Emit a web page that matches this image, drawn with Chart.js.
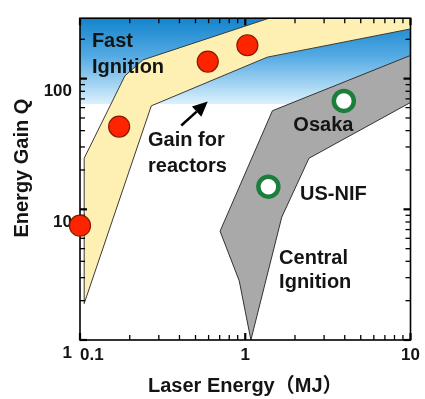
<!DOCTYPE html>
<html><head><meta charset="utf-8">
<script src="https://cdn.jsdelivr.net/npm/chart.js@4.4.1/dist/chart.umd.min.js"></script>
<style>html,body{margin:0;padding:0;background:#fff;overflow:hidden}#c{display:block}</style>
</head><body>
<canvas id="c" width="425" height="399"></canvas>
<script>
// ---- data ----
const xTickLabels = [0.1, 1, 10];
const yTickLabels = [1, 10, 100];
// Fast ignition band outline (MJ, gain)
const fastBandX = [0.106, 0.106, 0.187, 0.240, 1.36, 10, 10, 1.36, 0.270, 0.106];
const fastBandY = [1.90, 24.6, 105, 139, 287, 475, 240, 146, 61.9, 1.90];
// Central ignition band outline
const centralBandX = [1.082, 0.920, 0.704, 1.46, 10, 10, 2.43, 1.663, 1.082];
const centralBandY = [1.0, 2.83, 6.8, 56.8, 150.5, 65.7, 24.6, 8.71, 1.0];
// Fast ignition design points
const fastPointX = [0.1, 0.1725, 0.593, 1.03];
const fastPointY = [7.5, 43, 135, 180];
// Central ignition design points
const centralPointNames = ['Osaka', 'US-NIF'];
const centralPointX = [3.95, 1.38];
const centralPointY = [67.5, 14.9];
// Gain required for reactors (lower edge of blue region)
const reactorGain = 64;

const toPts = (xs, ys) => xs.map((x, i) => ({x, y: ys[i]}));

const annotations = [
  {text:'Fast', x:0.118, y:192},
  {text:'Ignition', x:0.118, y:122},
  {text:'Gain for', x:0.258, y:33.6},
  {text:'reactors', x:0.258, y:21.3},
  {text:'Osaka', x:1.954, y:43.8},
  {text:'US-NIF', x:2.145, y:13.0},
  {text:'Central', x:1.603, y:4.23},
  {text:'Ignition', x:1.603, y:2.74}
];
const arrow = {x1:0.41, y1:43.8, x2:0.593, y2:66.8};

const FONT = "'Liberation Sans', Arial, 'Noto Sans CJK SC', sans-serif";
const INK = '#141414';

const isPow10 = v => Math.abs(Math.log10(v) - Math.round(Math.log10(v))) < 1e-6;
const isNice = v => { const m = v / Math.pow(10, Math.floor(Math.log10(v) + 1e-9)); return Math.abs(m - Math.round(m)) < 1e-6; };
const labelFor = (list) => (v) => { const f = list.find(l => Math.abs(v / l - 1) < 1e-6); return f === undefined ? '' : String(f); };

function drawFrame(chart) {
  const {ctx, chartArea: a, scales: {x, y}} = chart;
  ctx.save();
  ctx.strokeStyle = '#000';
  const line = (x1, y1, x2, y2) => { ctx.beginPath(); ctx.moveTo(x1, y1); ctx.lineTo(x2, y2); ctx.stroke(); };
  x.ticks.forEach(t => {
    const v = t.value; if (!(v > 0) || !isNice(v)) return;
    const px = x.getPixelForValue(v); const major = isPow10(v);
    const L = major ? 7 : 5; ctx.lineWidth = major ? 2.2 : 1.3;
    line(px, a.bottom, px, a.bottom - L); line(px, a.top, px, a.top + L);
  });
  y.ticks.forEach(t => {
    const v = t.value; if (!(v > 0) || !isNice(v)) return;
    const py = y.getPixelForValue(v); const major = isPow10(v);
    const L = major ? 7 : 5; ctx.lineWidth = major ? 2.2 : 1.3;
    line(a.left, py, a.left + L, py); line(a.right, py, a.right - L, py);
  });
  ctx.lineWidth = 1.6;
  ctx.strokeRect(a.left, a.top, a.right - a.left, a.bottom - a.top);
  ctx.restore();
}

const framePlugin = {
  id: 'framePlugin',
  afterDatasetDraw(chart, args) {
    if (chart.data.datasets[args.index].label === 'centralBand') drawFrame(chart);
  },
  afterDatasetsDraw(chart) {
    const {ctx, scales: {x, y}, chartArea: a} = chart;
    ctx.save();
    ctx.fillStyle = INK;
    ctx.font = 'bold 20px ' + FONT;
    ctx.textAlign = 'left'; ctx.textBaseline = 'middle';
    annotations.forEach(t => ctx.fillText(t.text, x.getPixelForValue(t.x), y.getPixelForValue(t.y)));
    // x tick labels (first one starts at the axis, as in the reference)
    ctx.font = 'bold 17px ' + FONT;
    ctx.textBaseline = 'middle';
    xTickLabels.forEach((v, i) => {
      ctx.textAlign = i === 0 ? 'left' : 'center';
      ctx.fillText(String(v), x.getPixelForValue(v), a.bottom + 15);
    });
    // arrow
    const x1 = x.getPixelForValue(arrow.x1), y1 = y.getPixelForValue(arrow.y1);
    const x2 = x.getPixelForValue(arrow.x2), y2 = y.getPixelForValue(arrow.y2);
    const ang = Math.atan2(y2 - y1, x2 - x1);
    const hl = 15, hw = 7;
    const bx = x2 - hl * Math.cos(ang), by = y2 - hl * Math.sin(ang);
    ctx.strokeStyle = '#000'; ctx.lineWidth = 2.5;
    ctx.beginPath(); ctx.moveTo(x1, y1); ctx.lineTo(bx, by); ctx.stroke();
    ctx.fillStyle = '#000';
    ctx.beginPath(); ctx.moveTo(x2, y2);
    ctx.lineTo(bx + hw * Math.sin(ang), by - hw * Math.cos(ang));
    ctx.lineTo(bx - hw * Math.sin(ang), by + hw * Math.cos(ang));
    ctx.closePath(); ctx.fill();
    // y axis title
    ctx.save();
    ctx.translate(22, (a.top + a.bottom) / 2 - 11);
    ctx.rotate(-Math.PI / 2);
    ctx.textAlign = 'center'; ctx.textBaseline = 'middle';
    ctx.fillStyle = INK;
    ctx.font = 'bold 20px ' + FONT;
    ctx.fillText('Energy Gain Q', 0, 0);
    ctx.restore();
    ctx.restore();
  }
};

new Chart(document.getElementById('c'), {
  type: 'scatter',
  data: {
    datasets: [
      {
        label: 'reactorBand', order: 10, showLine: true,
        data: [{x: 0.1, y: reactorGain}, {x: 10, y: reactorGain}],
        fill: 'end', borderWidth: 0, pointRadius: 0,
        backgroundColor: (c) => {
          const a = c.chart.chartArea; if (!a) return '#7cc0ec';
          const yb = c.chart.scales.y.getPixelForValue(reactorGain);
          const g = c.chart.ctx.createLinearGradient(0, a.top, 0, yb);
          g.addColorStop(0, '#1384cc'); g.addColorStop(0.45, '#55abe3'); g.addColorStop(1, '#dcf1fd');
          return g;
        }
      },
      {
        label: 'fastBand', order: 9, showLine: true, data: toPts(fastBandX, fastBandY),
        fill: 'shape', backgroundColor: '#fdf0b2', borderColor: '#3a3a3a', borderWidth: 1,
        pointRadius: 0, tension: 0, clip: 0
      },
      {
        label: 'centralBand', order: 8, showLine: true, data: toPts(centralBandX, centralBandY),
        fill: 'shape', backgroundColor: '#a9a9a9', borderColor: '#333', borderWidth: 1,
        pointRadius: 0, tension: 0, clip: 0
      },
      {
        label: 'fastPoints', order: 2, data: toPts(fastPointX, fastPointY),
        pointRadius: 10.5, backgroundColor: '#ff2400', borderColor: '#8a1800', borderWidth: 1.2, clip: false
      },
      {
        label: 'centralPoints', order: 1, data: toPts(centralPointX, centralPointY),
        pointRadius: 10, backgroundColor: '#ffffff', borderColor: '#1b7e3d', borderWidth: 4.5, clip: false
      }
    ]
  },
  options: {
    responsive: false, animation: false,
    layout: {padding: {top: 13, right: 13, left: 0, bottom: 0}},
    plugins: {legend: {display: false}, tooltip: {enabled: false}},
    scales: {
      x: {
        type: 'logarithmic', min: 0.1, max: 10,
        grid: {display: false, drawTicks: false, tickLength: 0}, border: {display: false},
        ticks: {display: false, autoSkip: false, maxRotation: 0},
        title: {display: true, text: 'Laser Energy（MJ）', color: INK, padding: {top: 0, bottom: 1},
                font: {family: FONT, size: 20, weight: 'bold'}},
        afterFit: (s) => { s.height = 59; }
      },
      y: {
        type: 'logarithmic', min: 1, max: 290,
        grid: {display: false, drawTicks: false, tickLength: 0}, border: {display: false},
        ticks: {autoSkip: false, padding: 8, labelOffset: 13, color: INK,
                font: {family: FONT, size: 17, weight: 'bold'}, callback: labelFor(yTickLabels)},
        afterFit: (s) => { s.width = 80; }
      }
    }
  },
  plugins: [framePlugin]
});
</script>
</body></html>
